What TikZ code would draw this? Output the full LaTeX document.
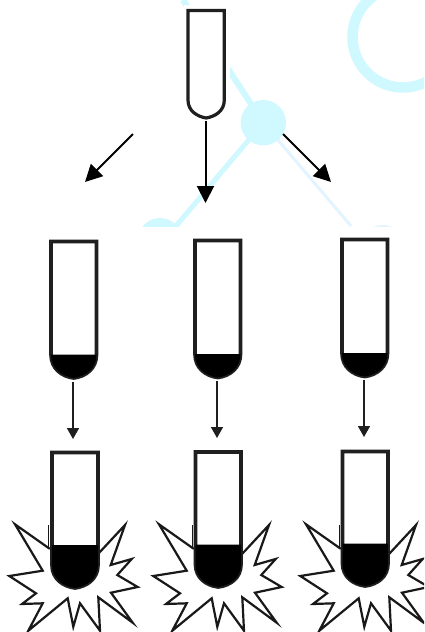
\documentclass[tikz,border=0pt]{standalone}
\usetikzlibrary{arrows.meta}
\definecolor{bgcyan}{HTML}{CFF8FF}
\definecolor{bgpale}{HTML}{E2F4FF}
\tikzset{
  x=1pt,y=-1pt,
  tubeline/.style={draw=black!88,line width=#1,line join=miter,fill=white},
  tubeline/.default=3.7pt,
  liquid/.style={fill=black,draw=none},
  flow/.style={draw=black,line width=2pt,-{Triangle[length=17pt,width=17pt,fill=black]}},
  flowsmall/.style={draw=black!88,line width=1.6pt,-{Triangle[length=11pt,width=12pt,fill=black!88]}},
  burst/.style={draw=black!90,line width=2.2pt,fill=white,line join=miter},
  decocyan/.style={draw=bgcyan,line width=#1},
  decocyan/.default=5pt,
}
% left right top straight-end bottom fill-top
\newcommand{\tubeEmpty}[5]{%
  \draw[tubeline=3.2pt] (#1,#3) -- (#1,#4) .. controls (#1,{#4+11}) and ({(#1+#2)/2-9},{#5-1.5}) .. ({(#1+#2)/2},#5)
    .. controls ({(#1+#2)/2+9},{#5-1.5}) and (#2,{#4+11}) .. (#2,#4) -- (#2,#3) -- cycle;}
\newcommand{\tubeFilled}[6]{%
  \draw[tubeline] (#1,#3) -- (#1,#4) .. controls (#1,{#4+0.6*(#5-#4)}) and ({(#1+#2)/2-12},{#5-1.5}) .. ({(#1+#2)/2},#5)
    .. controls ({(#1+#2)/2+12},{#5-1.5}) and (#2,{#4+0.6*(#5-#4)}) .. (#2,#4) -- (#2,#3) -- cycle;
  \fill[liquid] (#1,#6) -- (#1,#4) .. controls (#1,{#4+0.6*(#5-#4)}) and ({(#1+#2)/2-12},{#5-1.5}) .. ({(#1+#2)/2},#5)
    .. controls ({(#1+#2)/2+12},{#5-1.5}) and (#2,{#4+0.6*(#5-#4)}) .. (#2,#4) -- (#2,#6) -- cycle;}
\newcommand{\burstShape}{%
  \draw[burst] (49,548.3) -- (15,524.3) -- (42.7,570.7) -- (9.3,576) -- (36,593.3) -- (22,604)
   -- (42.7,603.3) -- (28.3,630.7) -- (67.7,598.3) -- (73.3,626.7) -- (80,603.3) -- (100,630.7) -- (98.3,597.3)
   -- (132.7,622.7) -- (111,592.7) -- (137.7,587) -- (117.3,575) -- (131.7,559) -- (110.7,565) -- (125,525) -- (98.7,553.3) -- cycle;
  \draw[draw=black!90,line width=1.5pt] (48.3,548) -- (48.3,525);}
\begin{document}
\begin{tikzpicture}
\useasboundingbox (0,0) rectangle (424,632);
\clip (0,0) rectangle (424,632);
\fill[white] (0,0) rectangle (424,632);
% background watermark
\begin{scope}
 \clip (0,0) rectangle (424,226);
 \draw[decocyan=6pt] (183,0) -- (263.3,122.7);
 \draw[decocyan=5pt] (263.3,122.7) -- (176,226);
 \draw[draw=bgpale,line width=3pt] (263.3,122.7) -- (351,226);
 \fill[bgcyan] (263.3,122.7) circle[radius=22.7];
 \fill[bgcyan] (160,240) circle[radius=22];
 \fill[bgpale] (383,250) circle[radius=25];
 \draw[decocyan=10.5pt] (403,37) circle[radius=50.5];
\end{scope}
\fill[white] (184,5) rectangle (230,125);
% top tube
\tubeEmpty{188}{224.3}{10.5}{100}{118}
\coordinate (srcL) at (133,134);
\coordinate (tipL) at (85,182);
\coordinate (srcM) at (205.5,121);
\coordinate (tipM) at (205.5,203);
\coordinate (srcR) at (283,134);
\coordinate (tipR) at (331,182);
\draw[flow] (srcL) -- (tipL);
\draw[flow] (srcM) -- (tipM);
\draw[flow] (srcR) -- (tipR);
% row 2
\tubeFilled{51}{96.5}{241.5}{354.5}{378}{354.5}
\tubeFilled{195}{240.5}{240.5}{354}{377.5}{354}
\tubeFilled{342}{387.5}{239.5}{353}{376.5}{353}
% row 2 arrows
\coordinate (a1) at (73,381.5);\coordinate (b1) at (73,439);
\coordinate (a2) at (217,381);\coordinate (b2) at (217,438);
\coordinate (a3) at (364,380);\coordinate (b3) at (364,437);
\draw[flowsmall] (a1) -- (b1);
\draw[flowsmall] (a2) -- (b2);
\draw[flowsmall] (a3) -- (b3);
% row 3
\burstShape
\begin{scope}[xshift=144pt]\burstShape\end{scope}
\begin{scope}[xshift=291pt]\burstShape\end{scope}
\tubeFilled{52}{98}{452.5}{565}{588}{545}
\tubeFilled{195.5}{241}{452}{564.5}{587}{544.5}
\tubeFilled{342.5}{388}{451.5}{563.5}{586}{543.5}
\end{tikzpicture}
\end{document}
